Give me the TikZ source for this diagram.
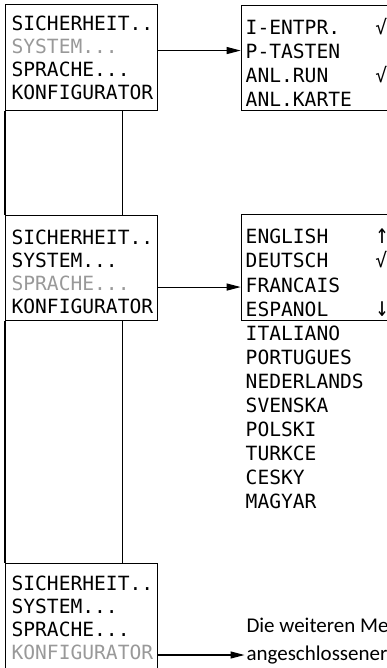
\documentclass[tikz,border=0pt]{standalone}
\usepackage{fontspec}
\usepackage{tikz}
\usetikzlibrary{arrows.meta,calc,positioning}
\newfontfamily\lcdfont{DejaVu Sans Mono}
\newfontfamily\notefont{Carlito}
\definecolor{lcdgray}{gray}{0.6}
\newcommand{\lcdup}{\scalebox{1.1}[1.4]{↑}}
\newcommand{\lcddown}{\scalebox{1.1}[1.4]{↓}}

\begin{document}
\begin{tikzpicture}[x=1pt,y=-1pt,
  screen/.style={draw,line width=1.1pt,anchor=north west,inner sep=0pt,minimum width=152pt},
  lcdtext/.style={anchor=north west,inner sep=0pt,align=left,font=\lcdfont\fontsize{19.6}{22.8}\selectfont},
  lcdlist/.style={lcdtext,font=\lcdfont\fontsize{19.6}{24.1}\selectfont},
  notetext/.style={anchor=north west,inner sep=0pt,align=left,font=\notefont\fontsize{21}{28}\selectfont},
  link/.style={line width=1.1pt},
  flow/.style={line width=1.1pt,-{Triangle[length=14pt,width=7pt]}}]
\useasboundingbox (0,0) rectangle (387,668);
\node[screen,minimum height=106pt] (menuA) at (5,4) {};
\node[screen,minimum height=105pt] (menuB) at (5,215) {};
\node[screen,minimum height=110pt] (menuC) at (5,563) {};
\node[screen,minimum width=150pt,minimum height=105.3pt] (sec) at (240.7,4.7) {};
\node[screen,minimum width=150pt,minimum height=105.7pt] (lang) at (240.7,214.3) {};
\node[lcdtext] (menuAtext) at ([xshift=6.4pt,yshift=-12.2pt]menuA.north west) {SICHERHEIT..\\\textcolor{lcdgray}{SYSTEM...}\\SPRACHE...\\KONFIGURATOR};
\node[lcdtext] (menuBtext) at ([xshift=6.4pt,yshift=-14.9pt]menuB.north west) {SICHERHEIT..\\SYSTEM...\\\textcolor{lcdgray}{SPRACHE...}\\KONFIGURATOR};
\node[lcdtext] (menuCtext) at ([xshift=6.4pt,yshift=-13.2pt]menuC.north west) {SICHERHEIT..\\SYSTEM...\\SPRACHE...\\\textcolor{lcdgray}{KONFIGURATOR}};
\node[lcdlist] (sectext) at ([xshift=4.8pt,yshift=-13.2pt]sec.north west) {I-ENTPR.~~~√\\P-TASTEN\\ANL.RUN~~~~√\\ANL.KARTE};
\node[lcdlist] (langtext) at ([xshift=4.8pt,yshift=-14.6pt]lang.north west) {ENGLISH~~~~\lcdup\\DEUTSCH~~~~√\\FRANCAIS\\ESPANOL~~~~\lcddown\\ITALIANO\\PORTUGUES\\NEDERLANDS\\SVENSKA\\POLSKI\\TURKCE\\CESKY\\MAGYAR};
\node[notetext] (note) at (246.3,618) {Die weiteren Me\\angeschlossener};
\coordinate (noteend) at (244.5,655);
\coordinate (selA) at ([yshift=7pt]menuA.east);
\coordinate (selB) at ([yshift=-19pt]menuB.east);
\draw[flow] (selA) -- (selA -| sec.west);
\draw[flow] (selB) -- (selB -| lang.west);
\draw[flow] (menuC.east |- noteend) -- (noteend);
\draw[link] (menuA.south west) -- (menuB.north west);
\draw[link] (menuB.south west) -- (menuC.north west);
\draw[link] ([xshift=117.5pt]menuA.south west) -- ([xshift=117.5pt]menuB.north west);
\draw[link] ([xshift=117.5pt]menuB.south west) -- ([xshift=117.5pt]menuC.north west);
\end{tikzpicture}
\end{document}
